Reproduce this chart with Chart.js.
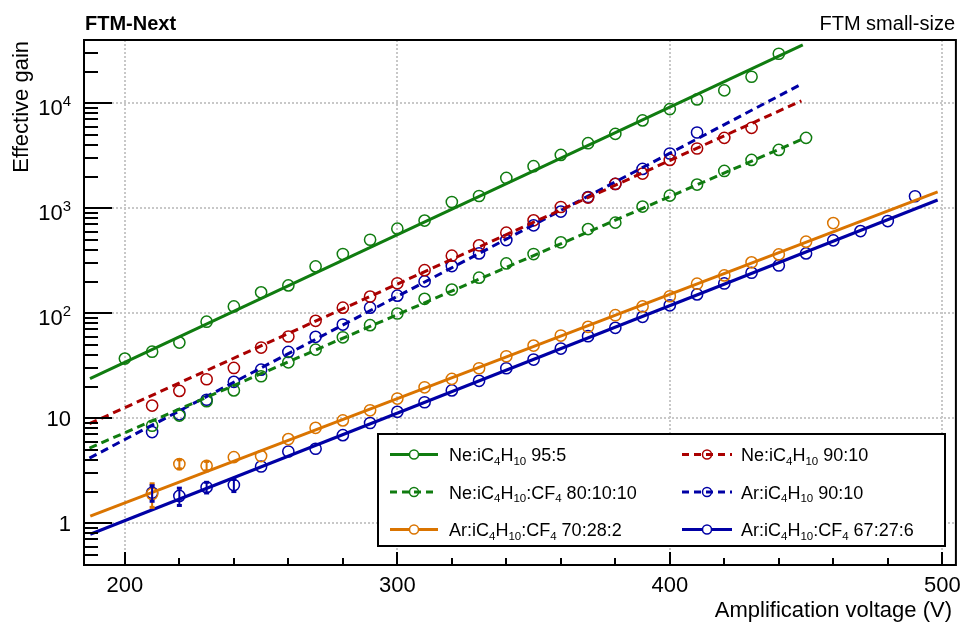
<!DOCTYPE html>
<html><head><meta charset="utf-8">
<script src="https://cdn.jsdelivr.net/npm/chart.js@4"></script>
<style>html,body{margin:0;padding:0;background:#fff}#wrap{width:963px;height:625px;position:relative}</style>
</head><body><div id="wrap"><canvas id="c"></canvas></div>
<script>
// ---------------- data ----------------
const titleLeft = 'FTM-Next';
const titleRight = 'FTM small-size';
const xAxisTitle = 'Amplification voltage (V)';
const yAxisTitle = 'Effective gain';
const xTickValues = [200, 300, 400, 500];
const xTickLabels = ['200', '300', '400', '500'];
const yTickValues = [1, 10, 100, 1000, 10000];
const yTickLabels = ['1', '10', '10^{2}', '10^{3}', '10^{4}'];

const seriesLabels = [
  'Ne:iC_{4}H_{10} 95:5',
  'Ne:iC_{4}H_{10} 90:10',
  'Ne:iC_{4}H_{10}:CF_{4} 80:10:10',
  'Ar:iC_{4}H_{10} 90:10',
  'Ar:iC_{4}H_{10}:CF_{4} 70:28:2',
  'Ar:iC_{4}H_{10}:CF_{4} 67:27:6'
];

// Ne:iC4H10 95:5
const ne95V = [200,210,220,230,240,250,260,270,280,290,300,310,320,330,340,350,360,370,380,390,400,410,420,430,440];
const ne95G = [37,43,52.5,83,116,158,184,279,366,501,639,762,1146,1307,1941,2512,3220,4159,5105,6855,8786,10870,13250,17860,29580];
const ne95FitV = [187.2, 448.8];
const ne95FitG = [23.8, 36000];

// Ne:iC4H10 90:10
const ne90V = [210,220,230,240,250,260,270,280,290,300,310,320,330,340,350,360,370,380,390,400,410,420,430];
const ne90G = [13.2,18.2,23.5,30.1,47.1,60,84.6,113,144,193,257,353,443,585,767,1027,1262,1702,2138,2885,3704,4677,5823];
const ne90FitV = [187, 448.3];
const ne90FitG = [8.87, 10540];

// Ne:iC4H10:CF4 80:10:10
const neCF4V = [210,220,230,240,250,260,270,280,290,300,310,320,330,340,350,360,370,380,390,400,410,420,430,440,450];
const neCF4G = [8.48,10.6,14.5,18.4,25.1,34.1,45.0,59,76.9,99.4,137,168,218,298,366,473,633,729,1036,1318,1680,2264,2884,3590,4677];
const neCF4FitV = [187, 449];
const neCF4FitG = [5.2, 4590];

// Ar:iC4H10 90:10
const ar90V = [210,220,230,240,250,260,270,280,290,300,310,320,330,340,350,360,370,380,390,400,410];
const ar90G = [7.38,10.9,15.0,22.2,29.0,42.8,59.6,78,113,147,201,281,371,497,687,929,1279,1702,2366,3320,5260];
const ar90FitV = [187, 448.3];
const ar90FitG = [4.17, 15200];

// Ar:iC4H10:CF4 70:28:2
const ar70V = [210,220,230,240,250,260,270,280,290,300,310,320,330,340,350,360,370,380,390,400,410,420,430,440,450,460];
const ar70G = [1.9,3.66,3.52,4.26,4.36,6.33,8.1,9.53,11.9,15.4,19.7,23.7,29.9,38.9,49.2,61.3,74.2,95.7,116,145,191,229,305,363,480,722];
const ar70FitV = [187.3, 498.3];
const ar70FitG = [1.17, 1428];
const ar70ErrV = [210, 220, 230];
const ar70ErrG = [0.5, 0.4, 0.4];

// Ar:iC4H10:CF4 67:27:6
const ar67V = [210,220,230,240,250,260,270,280,290,300,310,320,330,340,350,360,370,380,390,400,410,420,430,440,450,460,470,480,490];
const ar67G = [1.95,1.82,2.2,2.31,3.47,4.82,5.12,6.9,9.0,11.5,14.2,18.4,22.7,29.9,36.2,46.1,60.4,72.6,92.4,119,151,192,243,285,371,494,606,755,1300];
const ar67FitV = [187.3, 498.3];
const ar67FitG = [0.785, 1197];
const ar67ErrV = [210, 220, 230, 240];
const ar67ErrG = [0.35, 0.36, 0.28, 0.33];

// ---------------- styling ----------------
const GREEN = 'rgb(16,124,16)';
const RED = 'rgb(170,0,0)';
const BLUE = 'rgb(0,0,165)';
const ORANGE = 'rgb(218,116,0)';
const FONT = '"Liberation Sans", Arial, Helvetica, sans-serif';

const seriesDefs = [
  {V: ne95V, G: ne95G, fV: ne95FitV, fG: ne95FitG, color: GREEN, dashed: false},
  {V: ne90V, G: ne90G, fV: ne90FitV, fG: ne90FitG, color: RED, dashed: true},
  {V: neCF4V, G: neCF4G, fV: neCF4FitV, fG: neCF4FitG, color: GREEN, dashed: true},
  {V: ar90V, G: ar90G, fV: ar90FitV, fG: ar90FitG, color: BLUE, dashed: true},
  {V: ar70V, G: ar70G, fV: ar70FitV, fG: ar70FitG, color: ORANGE, dashed: false, eV: ar70ErrV, eG: ar70ErrG},
  {V: ar67V, G: ar67G, fV: ar67FitV, fG: ar67FitG, color: BLUE, dashed: false, eV: ar67ErrV, eG: ar67ErrG}
];
const DASH = [8, 5];

const datasets = [];
seriesDefs.forEach((s, i) => {
  datasets.push({
    label: seriesLabels[i],
    data: s.V.map((v, k) => ({x: v, y: s.G[k]})),
    showLine: false,
    pointStyle: 'circle',
    pointRadius: 5.6,
    pointBorderWidth: 1.5,
    pointBorderColor: s.color,
    pointBackgroundColor: 'rgba(0,0,0,0)',
    borderColor: s.color,
    order: 2
  });
  datasets.push({
    label: seriesLabels[i] + ' fit',
    data: s.fV.map((v, k) => ({x: v, y: s.fG[k]})),
    showLine: true,
    pointRadius: 0,
    borderWidth: 3,
    borderColor: s.color,
    borderDash: s.dashed ? DASH : [],
    fill: false,
    order: 1
  });
});

// rich text with _{} subscripts and ^{} superscripts
function drawRich(ctx, str, x, y, size, align) {
  const segs = [];
  const re = /([_^])\{([^}]*)\}/g;
  let last = 0, m;
  while ((m = re.exec(str))) {
    if (m.index > last) segs.push({t: str.slice(last, m.index), k: ''});
    segs.push({t: m[2], k: m[1]});
    last = re.lastIndex;
  }
  if (last < str.length) segs.push({t: str.slice(last), k: ''});
  let w = 0;
  segs.forEach(s => {
    s.size = s.k === '_' ? size * 0.64 : s.k === '^' ? size * 0.68 : size;
    ctx.font = s.size + 'px ' + FONT;
    s.w = ctx.measureText(s.t).width;
    w += s.w;
  });
  let cx = align === 'right' ? x - w : align === 'center' ? x - w / 2 : x;
  ctx.textAlign = 'left';
  ctx.textBaseline = 'alphabetic';
  segs.forEach(s => {
    ctx.font = s.size + 'px ' + FONT;
    const dy = s.k === '_' ? size * 0.2 : s.k === '^' ? -size * 0.41 : 0;
    ctx.fillText(s.t, cx, y + dy);
    cx += s.w;
  });
}

const framePlugin = {
  id: 'rootFrame',
  beforeDatasetsDraw(chart) {
    const {ctx, chartArea: a, scales: {x, y}} = chart;
    ctx.save();
    ctx.strokeStyle = '#c8c8c8';
    ctx.lineWidth = 2;
    ctx.setLineDash([2, 2]);
    xTickValues.forEach(v => {
      const px = Math.round(x.getPixelForValue(v));
      ctx.beginPath(); ctx.moveTo(px, a.top); ctx.lineTo(px, a.bottom); ctx.stroke();
    });
    yTickValues.forEach(v => {
      const py = Math.round(y.getPixelForValue(v));
      ctx.beginPath(); ctx.moveTo(a.left, py); ctx.lineTo(a.right, py); ctx.stroke();
    });
    ctx.restore();
  },
  afterDatasetsDraw(chart) {
    const {ctx, scales: {x, y}} = chart;
    ctx.save();
    seriesDefs.forEach(s => {
      if (!s.eV) return;
      ctx.strokeStyle = s.color;
      ctx.fillStyle = s.color;
      ctx.lineWidth = 2;
      s.eV.forEach((v, k) => {
        const idx = s.V.indexOf(v);
        const g = s.G[idx];
        const px = x.getPixelForValue(v);
        const p1 = y.getPixelForValue(g + s.eG[k]);
        const p2 = y.getPixelForValue(Math.max(g - s.eG[k], 0.41));
        ctx.beginPath(); ctx.moveTo(px, p1); ctx.lineTo(px, p2); ctx.stroke();
        ctx.fillRect(px - 2.5, p1 - 1, 5, 3);
        ctx.fillRect(px - 2.5, p2 - 2, 5, 3);
      });
    });
    ctx.restore();
  },
  afterDraw(chart) {
    const {ctx, chartArea: a, scales: {x, y}} = chart;
    ctx.save();
    ctx.setLineDash([]);
    ctx.strokeStyle = '#000';
    ctx.fillStyle = '#000';
    ctx.lineWidth = 2;
    // frame
    ctx.strokeRect(a.left, a.top, a.right - a.left, a.bottom - a.top);
    // x ticks (inside)
    for (let v = 200; v <= 500; v += 20) {
      const px = Math.round(x.getPixelForValue(v));
      const len = xTickValues.includes(v) ? 13 : 7;
      ctx.beginPath(); ctx.moveTo(px, a.bottom); ctx.lineTo(px, a.bottom - len); ctx.stroke();
    }
    // y ticks (inside)
    const yMinor = [];
    [0.1, 1, 10, 100, 1000, 10000].forEach(d => { for (let k = 1; k <= 9; k++) yMinor.push(d * k); });
    yMinor.forEach(v => {
      if (v < y.min || v >= y.max) return;
      const py = Math.round(y.getPixelForValue(v));
      const len = yTickValues.includes(v) ? 28 : 14;
      ctx.beginPath(); ctx.moveTo(a.left, py); ctx.lineTo(a.left + len, py); ctx.stroke();
    });
    // tick labels
    xTickValues.forEach((v, i) => {
      drawRich(ctx, xTickLabels[i], x.getPixelForValue(v), a.bottom + 27, 22, 'center');
    });
    yTickValues.forEach((v, i) => {
      const lab = yTickLabels[i];
      const off = lab.includes('^') ? 11.5 : 8;
      drawRich(ctx, lab, a.left - 13, y.getPixelForValue(v) + off, 22, 'right');
    });
    // axis titles
    ctx.font = '22px ' + FONT;
    ctx.textAlign = 'right';
    ctx.textBaseline = 'alphabetic';
    ctx.fillText(xAxisTitle, 952, 617);
    ctx.save();
    ctx.translate(28, a.top + 1);
    ctx.rotate(-Math.PI / 2);
    ctx.textAlign = 'right';
    ctx.fillText(yAxisTitle, 0, 0);
    ctx.restore();
    // headers
    ctx.font = 'bold 20px ' + FONT;
    ctx.textAlign = 'left';
    ctx.fillText(titleLeft, 85, 30);
    ctx.font = '20px ' + FONT;
    ctx.textAlign = 'right';
    ctx.fillText(titleRight, 955, 30);
    // legend
    const L = {x0: 378, y0: 434, x1: 945, y1: 546};
    ctx.fillStyle = '#fff';
    ctx.fillRect(L.x0, L.y0, L.x1 - L.x0, L.y1 - L.y0);
    ctx.strokeStyle = '#000';
    ctx.lineWidth = 2;
    ctx.strokeRect(L.x0, L.y0, L.x1 - L.x0, L.y1 - L.y0);
    const cols = [{l: 390, r: 438, m: 414, t: 449}, {l: 682, r: 732, m: 707, t: 741}];
    const rows = [454.5, 492, 529.5];
    seriesDefs.forEach((s, i) => {
      const c = cols[i % 2], ry = rows[Math.floor(i / 2)];
      ctx.strokeStyle = s.color;
      ctx.lineWidth = 3;
      ctx.setLineDash(s.dashed ? [7, 5] : []);
      ctx.beginPath(); ctx.moveTo(c.l, ry); ctx.lineTo(c.r, ry); ctx.stroke();
      ctx.setLineDash([]);
      ctx.lineWidth = 1.5;
      ctx.beginPath(); ctx.arc(c.m, ry, 4.5, 0, Math.PI * 2);
      if (!s.dashed) { ctx.fillStyle = '#fff'; ctx.fill(); }
      ctx.stroke();
      ctx.fillStyle = '#000';
      drawRich(ctx, seriesLabels[i], c.t, ry + 6.5, 18, 'left');
    });
    ctx.restore();
  }
};

new Chart(document.getElementById('c'), {
  type: 'scatter',
  data: {datasets},
  options: {
    responsive: true,
    maintainAspectRatio: false,
    animation: false,
    layout: {padding: {left: 84, top: 40, right: 7, bottom: 60}},
    plugins: {legend: {display: false}, tooltip: {enabled: false}},
    scales: {
      x: {type: 'linear', min: 185, max: 505, display: false},
      y: {type: 'logarithmic', min: 0.4, max: 40000, display: false}
    }
  },
  plugins: [framePlugin]
});
</script>
</body></html>
